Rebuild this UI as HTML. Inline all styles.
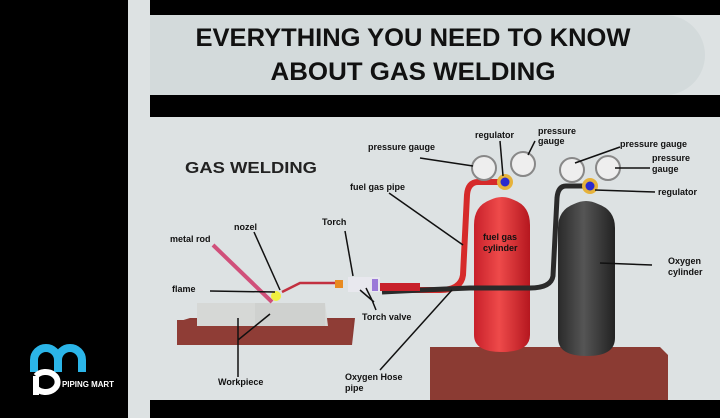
<!DOCTYPE html>
<html><head><meta charset="utf-8"><style>
html,body{margin:0;padding:0;background:#000;}
svg{display:block;font-family:"Liberation Sans",sans-serif;}
.l{font-size:9px;font-weight:bold;fill:#111;}
</style></head><body>
<svg width="720" height="418" viewBox="0 0 720 418">
<defs>
<linearGradient id="rc" x1="0" x2="1"><stop offset="0" stop-color="#c8202a"/><stop offset="0.45" stop-color="#ee4a4a"/><stop offset="1" stop-color="#b5171f"/></linearGradient>
<linearGradient id="bc" x1="0" x2="1"><stop offset="0" stop-color="#2a2a2a"/><stop offset="0.45" stop-color="#555"/><stop offset="1" stop-color="#222"/></linearGradient>
</defs>
<rect width="720" height="418" fill="#000"/>
<rect x="128" y="0" width="592" height="418" fill="#dde2e3"/>
<rect x="150" y="0" width="570" height="15" fill="#000"/>
<path d="M150 15 H665 A40 40 0 0 1 665 95 H150 Z" fill="#d3dadb"/>
<rect x="150" y="95" width="570" height="22" fill="#000"/>
<rect x="150" y="400" width="570" height="18" fill="#000"/>
<text x="413" y="46" text-anchor="middle" font-size="25" font-weight="bold" fill="#111" textLength="435" lengthAdjust="spacingAndGlyphs">EVERYTHING YOU NEED TO KNOW</text>
<text x="413" y="80" text-anchor="middle" font-size="25" font-weight="bold" fill="#111" textLength="285" lengthAdjust="spacingAndGlyphs">ABOUT GAS WELDING</text>
<text x="185" y="173" font-size="16" font-weight="bold" fill="#222" textLength="132" lengthAdjust="spacingAndGlyphs">GAS WELDING</text>

<!-- logo -->
<path d="M34 372 V360 A12 12 0 0 1 58 360 V372 M58 360 A12 12 0 0 1 82 360 V372" stroke="#2bb5e8" stroke-width="8" fill="none"/>
<path d="M36 395 V376 M36 376 A12 10 0 1 1 36 388" stroke="#fff" stroke-width="6" fill="none"/>
<text x="62" y="387" font-size="8" font-weight="bold" fill="#fff" textLength="52" lengthAdjust="spacingAndGlyphs">PIPING MART</text>

<!-- workpiece -->
<path d="M177 322 L190 318 L355 318 L352 345 L177 345 Z" fill="#8a3a34"/>
<rect x="177" y="320" width="175" height="25" fill="#8f3d36"/>
<path d="M197 303 L325 303 L328 326 L197 326 Z" fill="#d6d8d6"/>
<rect x="255" y="303" width="70" height="23" fill="#cfd1cf"/>
<!-- right base -->
<path d="M430 347 L660 347 L668 355 L668 400 L430 400 Z" fill="#8b3b33"/>
<!-- cylinders -->
<path d="M474 225 Q474 206 490 200 Q502 194 514 200 Q530 206 530 225 V335 Q530 352 502 352 Q474 352 474 335 Z" fill="url(#rc)"/>
<path d="M558 228 Q558 210 574 204 Q586 198 598 204 Q615 210 615 228 V338 Q615 356 587 356 Q558 356 558 338 Z" fill="url(#bc)"/>
<!-- hoses -->
<path d="M500 182 H478 Q468 182 467 195 L463 275 Q461 290 440 290 H382" stroke="#d62a2a" stroke-width="6" fill="none"/>
<path d="M585 186 H566 Q558 186 557 198 L553 276 Q551 288 530 288 H470 Q420 290 382 292" stroke="#2a2a2a" stroke-width="5" fill="none"/>
<!-- gauges & regulators -->
<circle cx="484" cy="168" r="12" fill="#eee" stroke="#888" stroke-width="2"/>
<circle cx="523" cy="164" r="12" fill="#eee" stroke="#888" stroke-width="2"/>
<circle cx="505" cy="182" r="8" fill="#e6b23a"/><circle cx="505" cy="182" r="4.5" fill="#2a2ad0"/>
<circle cx="572" cy="170" r="12" fill="#eee" stroke="#888" stroke-width="2"/>
<circle cx="608" cy="168" r="12" fill="#eee" stroke="#888" stroke-width="2"/>
<circle cx="590" cy="186" r="8" fill="#e6b23a"/><circle cx="590" cy="186" r="4.5" fill="#2a2ad0"/>
<!-- torch -->
<path d="M282 292 L300 283 H338" stroke="#c23040" stroke-width="2.5" fill="none"/>
<rect x="335" y="280" width="8" height="8" fill="#e88a20"/>
<rect x="348" y="277" width="32" height="15" fill="#e8e8ee"/>
<rect x="372" y="279" width="6" height="12" fill="#9b7ad8"/>
<rect x="380" y="283" width="40" height="8" fill="#c8202a"/>
<!-- rod & flame -->
<line x1="213" y1="245" x2="272" y2="302" stroke="#d0507a" stroke-width="4"/>
<circle cx="276" cy="296" r="5" fill="#f0f040"/>
<!-- leader lines -->
<g stroke="#111" stroke-width="1.5" fill="none">
<line x1="254" y1="232" x2="280" y2="290"/>
<line x1="210" y1="291" x2="275" y2="292"/>
<line x1="345" y1="231" x2="353" y2="276"/>
<path d="M366 288 L372 300 L376 310 M360 290 L374 302"/>
<line x1="389" y1="193" x2="463" y2="245"/>
<line x1="420" y1="158" x2="473" y2="166"/>
<line x1="500" y1="141" x2="503" y2="176"/>
<line x1="535" y1="141" x2="528" y2="155"/>
<line x1="620" y1="147" x2="575" y2="163"/>
<line x1="615" y1="168" x2="650" y2="168"/>
<line x1="595" y1="190" x2="655" y2="192"/>
<line x1="600" y1="263" x2="652" y2="265"/>
<line x1="380" y1="370" x2="452" y2="290"/>
<path d="M238 318 V377 M238 340 L270 314"/>
</g>
<!-- labels -->
<text class="l" x="170" y="242">metal rod</text>
<text class="l" x="234" y="230">nozel</text>
<text class="l" x="172" y="292">flame</text>
<text class="l" x="322" y="225">Torch</text>
<text class="l" x="362" y="320">Torch valve</text>
<text class="l" x="350" y="190">fuel gas pipe</text>
<text class="l" x="368" y="150">pressure gauge</text>
<text class="l" x="475" y="138">regulator</text>
<text class="l" x="538" y="134">pressure</text>
<text class="l" x="538" y="144">gauge</text>
<text class="l" x="620" y="147">pressure gauge</text>
<text class="l" x="652" y="161">pressure</text>
<text class="l" x="652" y="172">gauge</text>
<text class="l" x="658" y="195">regulator</text>
<text class="l" x="483" y="240" fill="#5a0a0a">fuel gas</text>
<text class="l" x="483" y="251" fill="#5a0a0a">cylinder</text>
<text class="l" x="668" y="264">Oxygen</text>
<text class="l" x="668" y="275">cylinder</text>
<text class="l" x="218" y="385">Workpiece</text>
<text class="l" x="345" y="380">Oxygen Hose</text>
<text class="l" x="345" y="391">pipe</text>
</svg>
</body></html>
